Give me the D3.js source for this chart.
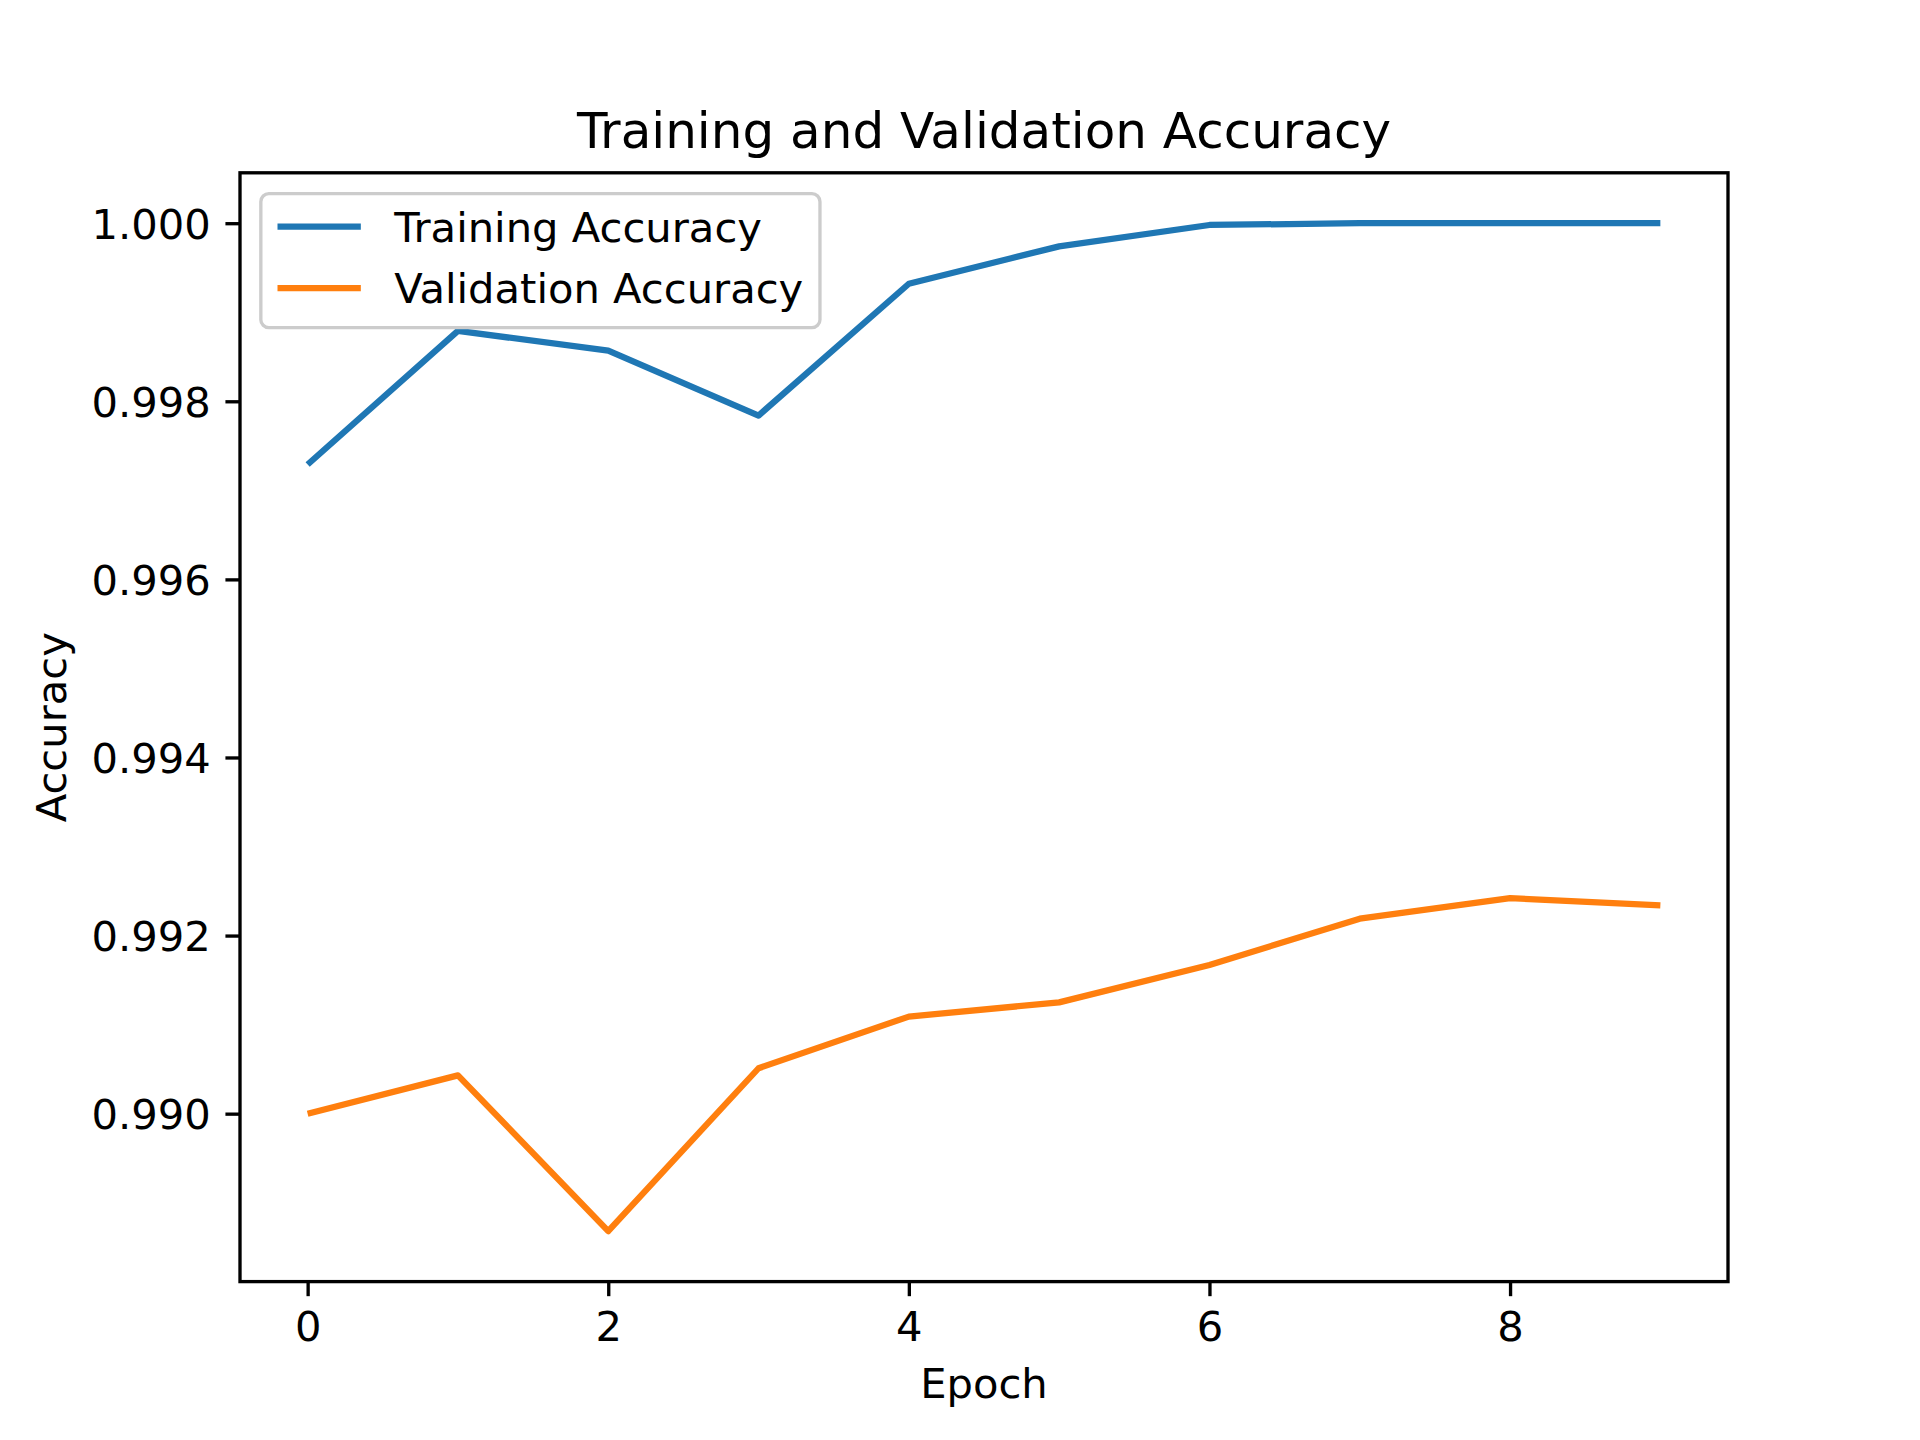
<!DOCTYPE html>
<html>
<head>
<meta charset="utf-8">
<script src="https://cdn.jsdelivr.net/npm/d3@7"></script>
<style>
  html, body { margin: 0; padding: 0; background: #fff; }
  svg { display: block; }
  text { font-family: "DejaVu Sans", sans-serif; fill: #000; }
</style>
</head>
<body>
<svg id="chart" width="1920" height="1440"></svg>
<script>
const epochs = [0, 1, 2, 3, 4, 5, 6, 7, 8, 9];
const trainingAccuracy = [0.99729, 0.99879, 0.99857, 0.99784, 0.99932, 0.99974, 0.99998, 1.0, 1.0, 1.0];
const validationAccuracy = [0.99000, 0.99043, 0.98868, 0.99051, 0.99109, 0.99125, 0.99167, 0.99219, 0.99242, 0.99234];
const xTicks = [0, 2, 4, 6, 8];
const yTicks = [0.990, 0.992, 0.994, 0.996, 0.998, 1.000];
const seriesNames = ["Training Accuracy", "Validation Accuracy"];
const seriesColors = ["#1f77b4", "#ff7f0e"];
const titleText = "Training and Validation Accuracy";
const xLabel = "Epoch";
const yLabel = "Accuracy";

const W = 1920, H = 1440;
const axL = 240, axR = 1728, axT = 172.8, axB = 1281.6;
const fs = 41.667;      // 10pt at 300dpi
const lw = 6.25;        // 1.5pt
const spineW = 3.333;   // 0.8pt
const tickLen = 14.58;  // 3.5pt
const tickPad = 14.58;

const svg = d3.select("#chart");
svg.append("rect").attr("width", W).attr("height", H).attr("fill", "#fff");

const allVals = trainingAccuracy.concat(validationAccuracy);
const yMin = d3.min(allVals), yMax = d3.max(allVals);
const yMarg = (yMax - yMin) * 0.05;
const xMin = d3.min(epochs), xMax = d3.max(epochs);
const xMarg = (xMax - xMin) * 0.05;

const x = d3.scaleLinear().domain([xMin - xMarg, xMax + xMarg]).range([axL, axR]);
const y = d3.scaleLinear().domain([yMin - yMarg, yMax + yMarg]).range([axB, axT]);

svg.append("clipPath").attr("id", "clip").append("rect")
  .attr("x", axL).attr("y", axT).attr("width", axR - axL).attr("height", axB - axT);

const series = [trainingAccuracy, validationAccuracy];
const line = d3.line().x((d, i) => x(epochs[i])).y(d => y(d));
const plot = svg.append("g").attr("clip-path", "url(#clip)");
series.forEach((s, k) => {
  plot.append("path").datum(s)
    .attr("d", line)
    .attr("fill", "none")
    .attr("stroke", seriesColors[k])
    .attr("stroke-width", lw)
    .attr("stroke-linejoin", "round")
    .attr("stroke-linecap", "butt");
});

const xAxis = d3.axisBottom(x).tickValues(xTicks).tickFormat(d3.format("d"))
  .tickSize(tickLen).tickPadding(tickPad);
const yAxis = d3.axisLeft(y).tickValues(yTicks).tickFormat(d3.format(".3f"))
  .tickSize(tickLen).tickPadding(tickPad);

const gx = svg.append("g").attr("transform", `translate(0,${axB})`).call(xAxis);
const gy = svg.append("g").attr("transform", `translate(${axL},0)`).call(yAxis);
[gx, gy].forEach(g => {
  g.select(".domain").remove();
  g.selectAll(".tick line").attr("stroke", "#000").attr("stroke-width", spineW);
  g.selectAll(".tick text").attr("font-size", fs).attr("font-family", "DejaVu Sans").attr("fill", "#000");
});
gx.selectAll(".tick text").attr("dy", null).attr("y", tickLen + tickPad + 30.5);
gy.selectAll(".tick text").attr("dy", "0.36em");

svg.append("rect").attr("x", axL).attr("y", axT).attr("width", axR - axL).attr("height", axB - axT)
  .attr("fill", "none").attr("stroke", "#000").attr("stroke-width", spineW);

svg.append("text").attr("x", (axL + axR) / 2).attr("y", 148)
  .attr("text-anchor", "middle").attr("font-size", 50).text(titleText);

svg.append("text").attr("x", (axL + axR) / 2).attr("y", 1398)
  .attr("text-anchor", "middle").attr("font-size", fs).text(xLabel);

svg.append("text").attr("transform", `translate(66,${(axT + axB) / 2}) rotate(-90)`)
  .attr("text-anchor", "middle").attr("font-size", fs).text(yLabel);

// legend
const lg = svg.append("g");
const pad = 0.5 * fs;
const lx = axL + pad, ly = axT + pad;
const borderPad = 0.4 * fs, handleLen = 2.0 * fs, handleTextPad = 0.8 * fs;
const rowStep = 61.5;
const tmpTexts = seriesNames.map(n => lg.append("text").attr("font-size", fs).text(n));
const textWidths = tmpTexts.map(t => t.node().getComputedTextLength());
const boxW = borderPad * 2 + handleLen + handleTextPad + d3.max(textWidths);
const boxH = 134;
lg.insert("rect", ":first-child")
  .attr("x", lx).attr("y", ly).attr("width", boxW).attr("height", boxH)
  .attr("rx", 8).attr("ry", 8)
  .attr("fill", "#fff").attr("fill-opacity", 0.8)
  .attr("stroke", "#cccccc").attr("stroke-width", spineW);
seriesNames.forEach((n, k) => {
  const cy = ly + 33 + k * rowStep;
  lg.append("line")
    .attr("x1", lx + borderPad).attr("x2", lx + borderPad + handleLen)
    .attr("y1", cy).attr("y2", cy)
    .attr("stroke", seriesColors[k]).attr("stroke-width", lw);
  tmpTexts[k].attr("x", lx + borderPad + handleLen + handleTextPad).attr("y", cy + 15);
});
</script>
</body>
</html>
